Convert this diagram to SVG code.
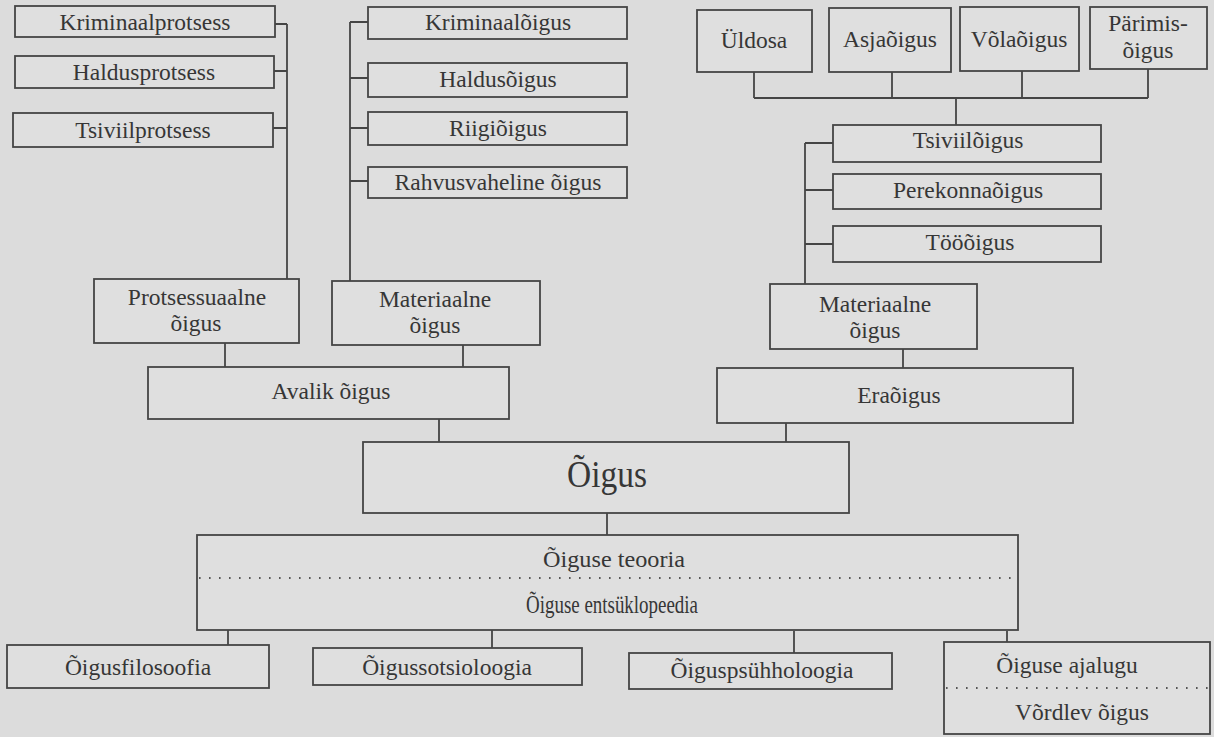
<svg xmlns="http://www.w3.org/2000/svg" width="1214" height="737" viewBox="0 0 1214 737">
<style>
.bg{fill:#dcdcdc}
.box{fill:#dfdfdf;stroke:#454545;stroke-width:1.8}
.t{font-family:"Liberation Serif","Times New Roman",serif;font-size:23.5px;fill:#363636;text-anchor:middle}
.big{font-size:38px}
.c{stroke:#454545;stroke-width:1.8;fill:none}
.dot{stroke:#555;stroke-width:2.2;stroke-dasharray:1.6 8.4;fill:none}
</style>
<rect class="bg" x="0" y="0" width="1214" height="737"/>

<g id="connectors">
  <path class="c" d="M287 24 V279 M275 24 H287 M274 71 H287 M273 128 H287"/>
  <path class="c" d="M350 22 V281 M350 22 H368 M350 78 H368 M350 128 H368 M350 181 H368"/>
  <path class="c" d="M754 72 V98 M892 72 V98 M1022 71 V98 M1148 69 V98 M754 98 H1148 M956 98 V125"/>
  <path class="c" d="M805 143 V284 M805 143 H833 M805 190 H833 M805 244 H833"/>
  <path class="c" d="M225 343 V367 M463 345 V367 M439 419 V442 M903 349 V368 M786 423 V442 M607 513 V535"/>
  <path class="c" d="M228 630 V645 M492 630 V648 M794 631 V653 M1007 631 V642"/>
</g>

<g id="kriminaalprotsess"><rect class="box" x="15" y="6" width="260" height="31"/><text class="t" x="145" y="30">Kriminaalprotsess</text></g>
<g id="haldusprotsess"><rect class="box" x="15" y="56" width="259" height="32"/><text class="t" x="144" y="80">Haldusprotsess</text></g>
<g id="tsiviilprotsess"><rect class="box" x="13" y="113" width="260" height="34"/><text class="t" x="143" y="138">Tsiviilprotsess</text></g>

<g id="kriminaaloigus"><rect class="box" x="368" y="7" width="259" height="32"/><text class="t" x="498" y="30">Kriminaalõigus</text></g>
<g id="haldusoigus"><rect class="box" x="368" y="63" width="259" height="34"/><text class="t" x="498" y="87">Haldusõigus</text></g>
<g id="riigioigus"><rect class="box" x="368" y="112" width="259" height="33"/><text class="t" x="498" y="136">Riigiõigus</text></g>
<g id="rahvusvaheline"><rect class="box" x="368" y="167" width="259" height="31"/><text class="t" x="498" y="190">Rahvusvaheline õigus</text></g>

<g id="uldosa"><rect class="box" x="697" y="10" width="115" height="62"/><text class="t" x="754" y="48">Üldosa</text></g>
<g id="asjaoigus"><rect class="box" x="829" y="8" width="122" height="64"/><text class="t" x="890" y="47">Asjaõigus</text></g>
<g id="volaoigus"><rect class="box" x="960" y="7" width="119" height="64"/><text class="t" x="1019" y="47">Võlaõigus</text></g>
<g id="parimisoigus"><rect class="box" x="1090" y="7" width="117" height="62"/><text class="t" x="1148" y="31">Pärimis-</text><text class="t" x="1148" y="58">õigus</text></g>

<g id="tsiviiloigus"><rect class="box" x="833" y="125" width="268" height="37"/><text class="t" x="968" y="148">Tsiviilõigus</text></g>
<g id="perekonnaoigus"><rect class="box" x="833" y="174" width="268" height="35"/><text class="t" x="968" y="198">Perekonnaõigus</text></g>
<g id="tooigus"><rect class="box" x="833" y="226" width="268" height="36"/><text class="t" x="970" y="250">Tööõigus</text></g>

<g id="protsessuaalne"><rect class="box" x="94" y="279" width="205" height="64"/><text class="t" x="197" y="305">Protsessuaalne</text><text class="t" x="196" y="331">õigus</text></g>
<g id="materiaalne-avalik"><rect class="box" x="332" y="281" width="208" height="64"/><text class="t" x="435" y="307">Materiaalne</text><text class="t" x="435" y="333">õigus</text></g>
<g id="avalik"><rect class="box" x="148" y="367" width="361" height="52"/><text class="t" x="331" y="399">Avalik õigus</text></g>

<g id="materiaalne-era"><rect class="box" x="770" y="284" width="207" height="65"/><text class="t" x="875" y="312">Materiaalne</text><text class="t" x="875" y="338">õigus</text></g>
<g id="eraoigus"><rect class="box" x="717" y="368" width="356" height="55"/><text class="t" x="899" y="403">Eraõigus</text></g>

<g id="oigus"><rect class="box" x="363" y="442" width="486" height="71"/><text class="t big" x="607" y="487" textLength="80" lengthAdjust="spacingAndGlyphs">Õigus</text></g>

<g id="teooria"><rect class="box" x="197" y="535" width="821" height="95"/>
  <line class="dot" x1="199" y1="578" x2="1016" y2="578"/>
  <text class="t" x="614" y="567" textLength="142" lengthAdjust="spacingAndGlyphs">Õiguse teooria</text>
  <text class="t" x="612" y="613" textLength="172" lengthAdjust="spacingAndGlyphs" style="font-size:25px">Õiguse entsüklopeedia</text>
</g>

<g id="filosoofia"><rect class="box" x="7" y="645" width="262" height="43"/><text class="t" x="138" y="675">Õigusfilosoofia</text></g>
<g id="sotsioloogia"><rect class="box" x="313" y="648" width="269" height="37"/><text class="t" x="447" y="675">Õigussotsioloogia</text></g>
<g id="psuhholoogia"><rect class="box" x="629" y="653" width="263" height="36"/><text class="t" x="762" y="678">Õiguspsühholoogia</text></g>
<g id="ajalugu"><rect class="box" x="944" y="642" width="266" height="92"/>
  <line class="dot" x1="946" y1="688" x2="1208" y2="688"/>
  <text class="t" x="1067" y="673">Õiguse ajalugu</text>
  <text class="t" x="1082" y="720">Võrdlev õigus</text>
</g>
</svg>
